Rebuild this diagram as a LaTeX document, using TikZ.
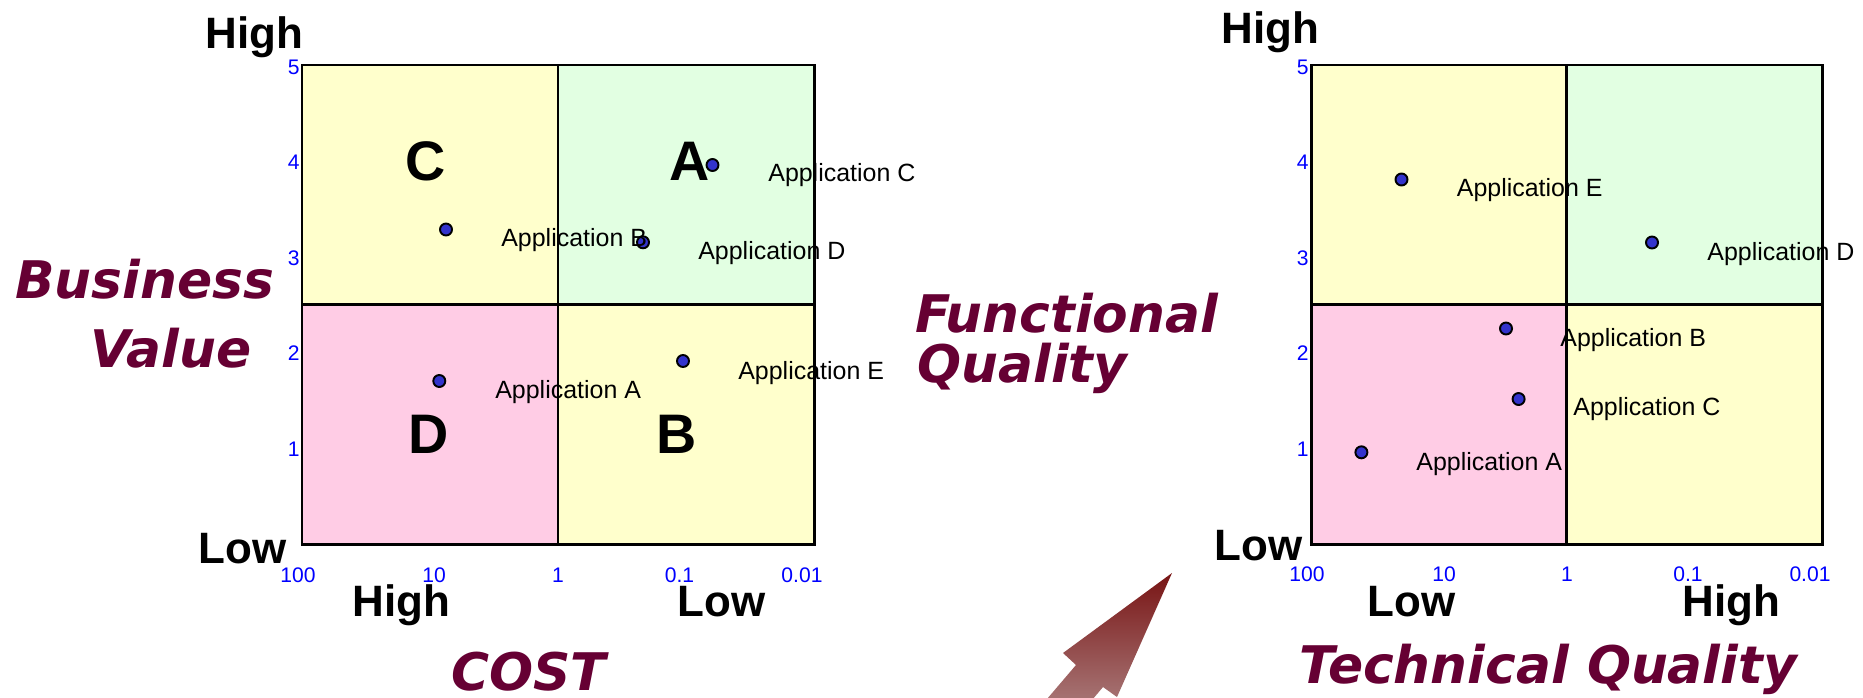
\documentclass[tikz,border=0pt]{standalone}
\usepackage{fontspec}
\setmainfont{Liberation Sans}
\newfontfamily\titlefont{DejaVu Sans Bold Oblique}
\definecolor{ttlred}{RGB}{102,0,51}
\definecolor{tickblue}{RGB}{0,0,255}
\definecolor{qyellow}{RGB}{255,255,204}
\definecolor{qgreen}{RGB}{226,255,226}
\definecolor{qpink}{RGB}{255,204,229}
\definecolor{dotblue}{RGB}{51,51,204}
\definecolor{arrtop}{RGB}{120,20,20}
\definecolor{arrbot}{RGB}{168,120,120}
\tikzset{
  app/.style={anchor=base west, inner sep=0pt, font=\fontsize{14.2}{16}\selectfont},
  tick/.style={anchor=base, inner sep=0pt, text=tickblue, font=\fontsize{12}{14}\selectfont},
  ytick/.style={anchor=east, inner sep=0pt, text=tickblue, font=\fontsize{12}{14}\selectfont},
  hl/.style={anchor=base west, inner sep=0pt, font=\bfseries\fontsize{25}{28}\selectfont},
  quad/.style={anchor=base, inner sep=0pt, font=\bfseries\fontsize{31.7}{34}\selectfont},
  ttl/.style={anchor=base west, inner sep=0pt, text=ttlred, font=\titlefont\fontsize{29.5}{33}\selectfont},
  appdot/.style={circle, inner sep=0pt, minimum size=0.24cm, fill=dotblue, draw=black, line width=1.1pt},
  frame/.style={draw=black, line width=1.7pt},
}
\begin{document}
\begin{tikzpicture}[x=0.02cm,y=-0.02cm]
\useasboundingbox (0,0) rectangle (1863,697);
\clip (0,0) rectangle (1863,697);
% ---------- left chart ----------
\fill[qyellow] (302,65) rectangle (558,304.5);
\fill[qgreen] (558,65) rectangle (814,304.5);
\fill[qpink] (302,304.5) rectangle (558,544);
\fill[qyellow] (558,304.5) rectangle (814,544);
\draw[frame] (302,65) rectangle (814,544);
\draw[frame] (558,65) -- (558,544);
\draw[frame] (302,304.5) -- (814,304.5);
% ---------- right chart ----------
\fill[qyellow] (1311,65) rectangle (1566.5,304.5);
\fill[qgreen] (1566.5,65) rectangle (1822,304.5);
\fill[qpink] (1311,304.5) rectangle (1566.5,544);
\fill[qyellow] (1566.5,304.5) rectangle (1822,544);
\draw[frame] (1311,65) rectangle (1822,544);
\draw[frame] (1566.5,65) -- (1566.5,544);
\draw[frame] (1311,304.5) -- (1822,304.5);
% ---------- y ticks ----------
\foreach \v/\yy in {5/67,4/162,3/258,2/353,1/449}{
  \node[ytick] (ly\v) at (300,\yy) {\v};
  \node[ytick] (ry\v) at (1309,\yy) {\v};
}
% ---------- x ticks ----------
\node[tick] (lx1) at (298,582) {100};
\node[tick] (lx2) at (434,582) {10};
\node[tick] (lx3) at (558,582) {1};
\node[tick] (lx4) at (679.5,582) {0.1};
\node[tick] (lx5) at (802,582) {0.01};
\node[tick] (rx1) at (1307,581) {100};
\node[tick] (rx2) at (1444,581) {10};
\node[tick] (rx3) at (1567,581) {1};
\node[tick] (rx4) at (1688,581) {0.1};
\node[tick] (rx5) at (1810,581) {0.01};
% ---------- High / Low ----------
\node[hl] (lhigh) at (205,48) {High};
\node[hl] (llow) at (198,563) {Low};
\node[hl] (lxhigh) at (352,616) {High};
\node[hl] (lxlow) at (677,616) {Low};
\node[hl] (rhigh) at (1221,43) {High};
\node[hl] (rlow) at (1214,560) {Low};
\node[hl] (rxlow) at (1367,616) {Low};
\node[hl] (rxhigh) at (1682,616) {High};
% ---------- quadrant letters ----------
\node[quad] (qC) at (426,180) {C};
\node[quad] (qA) at (689.5,180) {A};
\node[quad] (qD) at (429,453) {D};
\node[quad] (qB) at (677,453) {B};
% ---------- left chart points ----------
\node[appdot] (ldB) at (446,229.5) {};
\node[appdot] (ldC) at (712.5,165) {};
\node[appdot] (ldD) at (643,242.3) {};
\node[appdot] (ldE) at (683,361) {};
\node[appdot] (ldA) at (439.3,381) {};
\node[app] (laC) at (768,181.5) {Application C};
\node[app] (laD) at (698,259) {Application D};
\node[app] (laB) at (501,246.5) {Application B};
\node[app] (laA) at (495,398) {Application A};
\node[app] (laE) at (738,379) {Application E};
% ---------- right chart points ----------
\node[appdot] (rdE) at (1401.5,179.5) {};
\node[appdot] (rdD) at (1652,242.5) {};
\node[appdot] (rdB) at (1506,328.5) {};
\node[appdot] (rdC) at (1518.6,399) {};
\node[appdot] (rdA) at (1361.4,452.3) {};
\node[app] (raE) at (1456.5,196.5) {Application E};
\node[app] (raD) at (1707,260) {Application D};
\node[app] (raB) at (1560,346) {Application B};
\node[app] (raC) at (1573,415.5) {Application C};
\node[app] (raA) at (1416,470) {Application A};
% ---------- titles ----------
\node[ttl] (tbus) at (15,298) {Business};
\node[ttl] (tval) at (90,367) {Value};
\node[ttl] (tfun) at (915,332) {Functional};
\node[ttl] (tqua) at (917,382) {Quality};
\node[ttl] (tcost) at (451,690) {COST};
\node[ttl] (ttech) at (1299,683) {Technical Quality};
% ---------- block arrow ----------
\shade[top color=arrtop, bottom color=arrbot]
  (1172,573) -- (1117,697) -- (1103,687) -- (1087,706) -- (1041,706)
  -- (1076,665) -- (1063,653) -- cycle;
\end{tikzpicture}
\end{document}
